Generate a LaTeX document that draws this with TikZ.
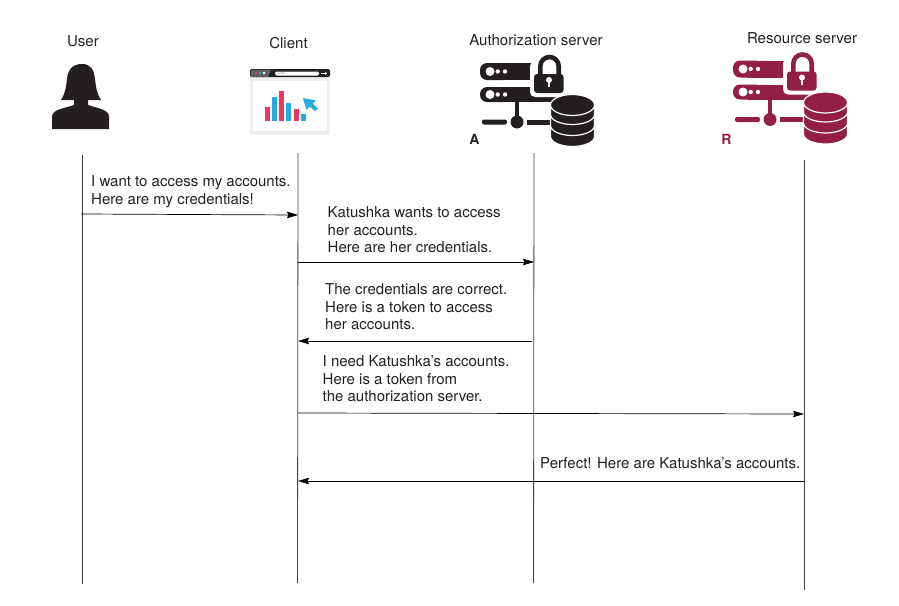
\documentclass[tikz,border=0pt]{standalone}
\usepackage{fontspec}
\setmainfont{TeX Gyre Heros}
\usetikzlibrary{arrows.meta}
\definecolor{iconblack}{HTML}{231F20}
\definecolor{iconwine}{HTML}{931F48}
\definecolor{chartred}{HTML}{E8385E}
\definecolor{chartblue}{HTML}{27AAE1}
\definecolor{framegray}{HTML}{EEEEEE}
\tikzset{
  msg/.style={-{Stealth[length=11pt,width=6.5pt,inset=1.5pt]}, line width=0.7pt, black},
  lifeline/.style={line width=0.8pt, iconblack!85},
  title/.style={font=\fontsize{15}{17}\selectfont, text=iconblack, inner sep=0pt},
  note/.style={font=\fontsize{15}{17.5}\selectfont, text=iconblack, align=left, anchor=north west, inner sep=0pt},
  pics/servericon/.style={code={
    % rack rows
    \fill[#1, rounded corners=7pt] (0,0) rectangle (30,17);
    \fill[#1] (15,0) rectangle (53,17);
    \fill[#1, rounded corners=7pt] (0,24) rectangle (30,39);
    \fill[#1] (15,24) rectangle (76,39);
    \fill[white] (10,8.5) circle (4.5) (17.7,8.5) circle (2.2) (25,8.5) circle (2.2);
    \fill[white] (10,31.5) circle (4.5) (17.7,31.5) circle (2.2) (25,31.5) circle (2.2);
    % network line
    \fill[#1] (34.8,38) rectangle (39.2,58);
    \fill[#1, rounded corners=2pt] (2,56.5) rectangle (27,61.5);
    \fill[#1] (47,56.5) rectangle (72,61.5);
    \fill[#1] (37,59) circle (6.5);
    % lock
    \fill[white, rounded corners=5pt] (50,-2) rectangle (88,34);
    \draw[#1, line width=4.6pt] (60.3,12) -- (60.3,3.2) arc[start angle=180, end angle=360, radius=9.2] -- (78.7,12);
    \fill[#1, rounded corners=3pt] (54,11) rectangle (83.5,30);
    \fill[white] (69,17) circle (3);
    \fill[white] (67.7,17) rectangle (70.3,24);
    % database
    \foreach \yy in {67, 56, 45}{
      \filldraw[#1, draw=white, line width=1.2pt] (70.5,\yy) -- (70.5,\yy+6.5)
        arc[start angle=180, end angle=0, x radius=22, y radius=10] -- (114.5,\yy)
        arc[start angle=360, end angle=180, x radius=22, y radius=10] -- cycle;
    }
    \filldraw[#1, draw=white, line width=1.2pt] (92.5,42) ellipse[x radius=22, y radius=10.5];
  }},
}
\begin{document}
\begin{tikzpicture}[x=1pt, y=-1pt]
\useasboundingbox (0,0) rectangle (899,605);

% titles
\node[title] (userT) at (83,41) {User};
\node[title] (clientT) at (288.5,43) {Client};
\node[title] (authT) at (536,40) {Authorization server};
\node[title] (resT) at (802,38) {Resource server};

% user
\fill[iconblack] (82,64) .. controls (72,64) and (68,70) .. (67,79)
  .. controls (66,88) and (65,94) .. (61,100) -- (74,100) -- (74,105)
  .. controls (66,108) and (53,109) .. (52,116) -- (52,129) -- (109,129) -- (109,116)
  .. controls (108,109) and (96,108) .. (88,105) -- (88,100) -- (101,100)
  .. controls (97,94) and (96,88) .. (95,79) .. controls (94,70) and (91,64) .. (82,64) -- cycle;

% client
\fill[framegray] (250,72) rectangle (330,135);
\fill[white] (253,81) rectangle (327,131);
\fill[iconblack, rounded corners=2pt] (250,77) -- (250,69) -- (330,69) -- (330,77) -- cycle;
\fill[gray!75!black] (250.5,77) -- (250.5,71) -- (252,69.5) -- (271,69.5) -- (268,77) -- cycle;
\fill[chartred] (256,73) circle (1.3);
\fill[chartblue] (260,73) circle (1.3);
\fill[white] (264,73) circle (1.3);
\fill[white, rounded corners=1.5pt] (275,71.5) rectangle (319,75.5);
\node[font=\fontsize{3}{3}\selectfont, text=gray, inner sep=0pt] (url) at (282,73.5) {www.};
\draw[white, line width=0.6pt, -{Stealth[length=2pt,width=3pt]}] (321,73.5) -- (327,73.5);
\foreach \xx/\yy/\cc in {265/107/chartred, 272/97/chartblue, 279/91/chartred, 286/103/chartblue, 294/109/chartred, 301/114/chartblue}{
  \fill[\cc] (\xx,\yy) rectangle (\xx+4.7,121);
}
\fill[chartblue] (303,98) -- (316,100.5) -- (312.5,103.5) -- (318,108.5) -- (315,111) -- (309.5,106.5) -- (306.5,110) -- cycle;

% servers
\pic at (480,63) {servericon=iconblack};
\pic at (733,60.5) {servericon=iconwine};
\node[font=\bfseries\fontsize{14}{15}\selectfont, text=iconblack, inner sep=0pt] (authL) at (474.5,139.5) {A};
\node[font=\bfseries\fontsize{14}{15}\selectfont, text=iconwine, inner sep=0pt] (resL) at (726.5,139) {R};

% lifelines
\coordinate (userTop) at (82,155);
\coordinate (userEnd) at (82,584);
\coordinate (clientTop) at (298,153);
\coordinate (clientEnd) at (297.5,583);
\coordinate (authTop) at (534,153);
\coordinate (authEnd) at (533.5,583);
\coordinate (resTop) at (804,160);
\coordinate (resEnd) at (804,590);
\foreach \who in {user, client, auth, res}{
  \draw[lifeline] (\who Top) -- (\who End);
}

% messages
\coordinate (m1a) at (81,214);
\coordinate (m1b) at (298,215);
\coordinate (m2a) at (298,262);
\coordinate (m2b) at (534,262);
\coordinate (m3a) at (532,341);
\coordinate (m3b) at (298,341);
\coordinate (m4a) at (298,413);
\coordinate (m4b) at (804,414);
\coordinate (m5a) at (804,481);
\coordinate (m5b) at (298,481);
\foreach \mm in {1,...,5}{
  \draw[msg] (m\mm a) -- (m\mm b);
}

\node[note] (txtA) at (91,175.5) {I want to access my accounts.\\Here are my credentials!};
\node[note] (txtB) at (327.5,206.5) {Katushka wants to access\\her accounts.\\Here are her credentials.};
\node[note] (txtC) at (325,283.5) {The credentials are correct.\\Here is a token to access\\her accounts.};
\node[note] (txtD) at (322.5,355.5) {I need Katushka’s accounts.\\Here is a token from\\the authorization server.};
\node[note] (txtE) at (540,457.5) {Perfect! Here are Katushka’s accounts.};
\end{tikzpicture}
\end{document}
